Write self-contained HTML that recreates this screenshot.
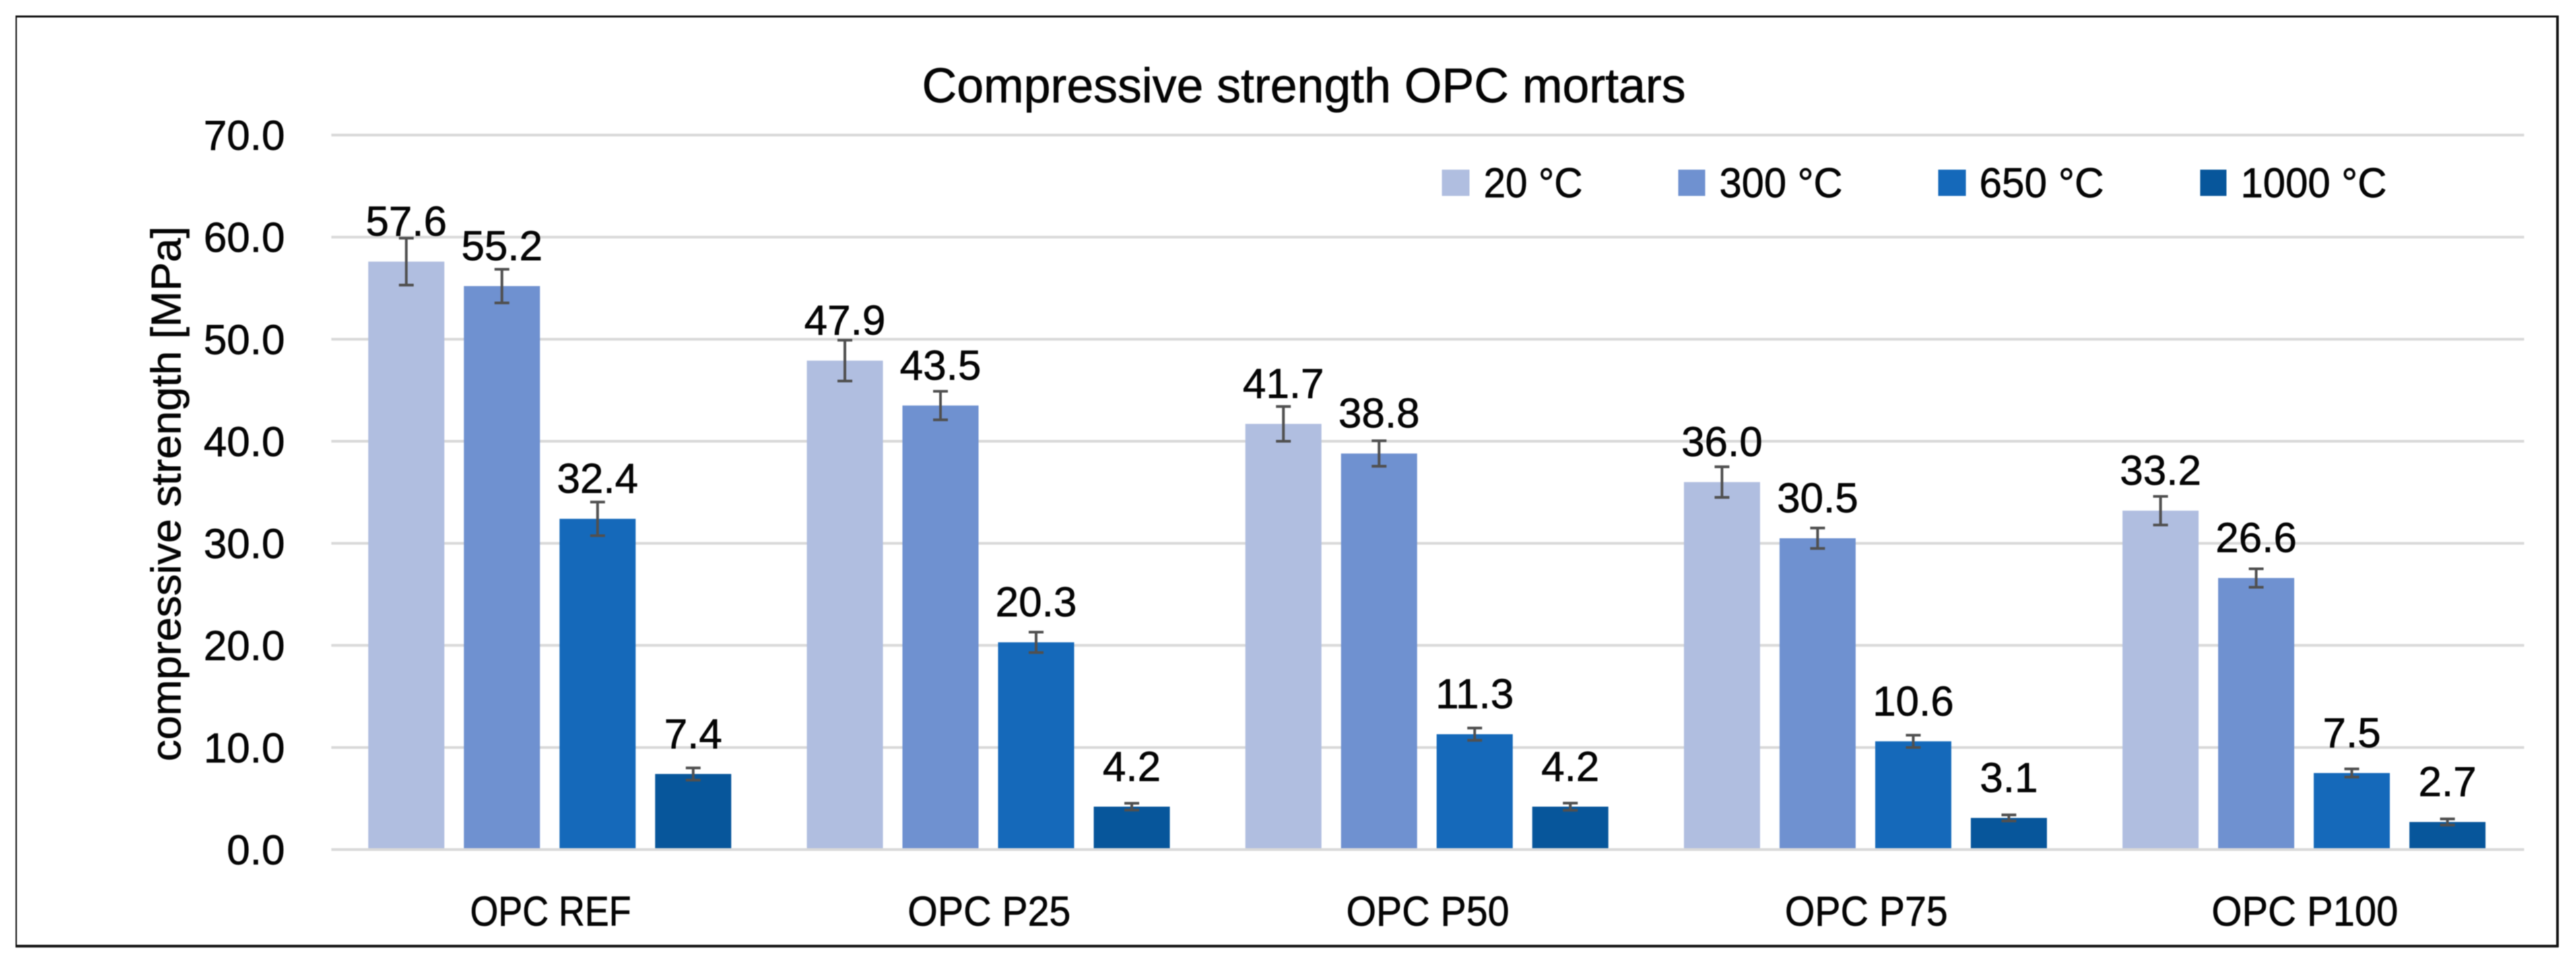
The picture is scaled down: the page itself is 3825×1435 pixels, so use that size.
<!DOCTYPE html>
<html lang="en">
<head>
<meta charset="utf-8">
<title>Compressive strength OPC mortars</title>
<style>
html,body{margin:0;padding:0;background:#fff;width:3825px;height:1435px;overflow:hidden}
svg{display:block}
text{font-family:"Liberation Sans",sans-serif;fill:#050505;stroke:#050505;stroke-width:0.7px}
</style>
</head>
<body>
<svg id="chart" xmlns="http://www.w3.org/2000/svg" width="3825" height="1435" viewBox="0 0 3825 1435" style="filter:blur(0.7px)">
  <rect x="0" y="0" width="3825" height="1435" fill="#fff"/>
  <g stroke="#161616" fill="none">
    <line x1="24" x2="24" y1="23" y2="1407" stroke-width="2"/>
    <line x1="23" x2="3799" y1="24.5" y2="24.5" stroke-width="3"/>
    <line x1="3797.5" x2="3797.5" y1="23" y2="1407" stroke-width="4"/>
    <line x1="23" x2="3799" y1="1405.5" y2="1405.5" stroke-width="4"/>
  </g>
  <text x="1369" y="152" font-size="72" textLength="1134" lengthAdjust="spacingAndGlyphs">Compressive strength OPC mortars</text>
  <text transform="translate(268,1131) rotate(-90)" x="0" y="0" font-size="62" textLength="795" lengthAdjust="spacingAndGlyphs">compressive strength [MPa]</text>
  <g id="grid"></g>
  <g id="yticks"></g>
  <g id="bars"></g>
  <g id="errors"></g>
  <g id="labels"></g>
  <g id="xticks"></g>
  <g id="legend"></g>
</svg>
<script>
const categories = ["OPC REF", "OPC P25", "OPC P50", "OPC P75", "OPC P100"];
const seriesNames = ["20 °C", "300 °C", "650 °C", "1000 °C"];
const tickValues = [0, 10, 20, 30, 40, 50, 60, 70];
const values20 = [57.6, 47.9, 41.7, 36.0, 33.2];
const values300 = [55.2, 43.5, 38.8, 30.5, 26.6];
const values650 = [32.4, 20.3, 11.3, 10.6, 7.5];
const values1000 = [7.4, 4.2, 4.2, 3.1, 2.7];
const errors20 = [2.3, 2.0, 1.7, 1.5, 1.4];
const errors300 = [1.65, 1.4, 1.25, 1.0, 0.9];
const errors650 = [1.65, 1.0, 0.6, 0.6, 0.4];
const errors1000 = [0.6, 0.33, 0.35, 0.3, 0.3];

const seriesValues = [values20, values300, values650, values1000];
const seriesErrors = [errors20, errors300, errors650, errors1000];

const NS = "http://www.w3.org/2000/svg";
const seriesColors = ["#b0bee0", "#6f91d0", "#1569ba", "#07569b"];
const barOffsets = [-213, -71, 71, 213];
const legendLayout = [
  {sx: 2141, sw: 41, tx: 2203, tw: 147},
  {sx: 2492, sw: 40, tx: 2553, tw: 183},
  {sx: 2878, sw: 41, tx: 2939, tw: 185},
  {sx: 3267, sw: 39, tx: 3327, tw: 217}
];
const categoryTextWidth = {"OPC REF": 239, "OPC P25": 242, "OPC P50": 242, "OPC P75": 242, "OPC P100": 277};

const plotLeft = 492, plotRight = 3748, yZero = 1262, yTop = 200.6, axisMax = 70;
const barWidth = 113;

function yScale(v) { return yZero - (v / axisMax) * (yZero - yTop); }
function xCenter(i) { return plotLeft + (plotRight - plotLeft) / categories.length * (i + 0.5) - 1.3; }

function make(tag, attrs, parent, content) {
  const el = document.createElementNS(NS, tag);
  for (const k in attrs) el.setAttribute(k, attrs[k]);
  if (content !== undefined) el.textContent = content;
  parent.appendChild(el);
  return el;
}

const gridG = document.getElementById("grid");
const ytickG = document.getElementById("yticks");
const barG = document.getElementById("bars");
const errG = document.getElementById("errors");
const labelG = document.getElementById("labels");
const xtickG = document.getElementById("xticks");
const legendG = document.getElementById("legend");

tickValues.forEach(function (t) {
  const line = make("line", {x1: plotLeft, x2: plotRight, y1: yScale(t), y2: yScale(t), stroke: "#d9d9d9", "stroke-width": 4}, gridG);
  
  
  const label = make("text", {x: 423, y: yScale(t) + 22, "font-size": 62, "text-anchor": "end"}, ytickG, t.toFixed(1));
  
  
});

seriesValues.forEach(function (vals, s) {
  vals.forEach(function (v, c) {
    const cx = xCenter(c) + barOffsets[s];
    const top = yScale(v);
    const bar = make("rect", {x: cx - barWidth / 2, y: top, width: barWidth, height: yZero - 2 - top, fill: seriesColors[s]}, barG);
    
    

    const e = seriesErrors[s][c];
    const yHi = yScale(v + e), yLo = yScale(v - e);
    const whisker = make("path", {
      d: "M" + (cx - 11) + " " + yHi + "H" + (cx + 11) + "M" + cx + " " + yHi + "V" + yLo + "M" + (cx - 11) + " " + yLo + "H" + (cx + 11),
      fill: "none", stroke: "#505050", "stroke-width": 4
    }, errG);
    
    

    const lab = make("text", {x: cx, y: top - 38.5, "font-size": 62, "text-anchor": "middle"}, labelG, v.toFixed(1));
    
    
  });
});

categories.forEach(function (name, c) {
  const w = categoryTextWidth[name];
  const t = make("text", {x: xCenter(c) + 1.3 - w / 2, y: 1375, "font-size": 62, textLength: w, lengthAdjust: "spacingAndGlyphs"}, xtickG, name);
  
  
});

seriesNames.forEach(function (name, s) {
  const p = legendLayout[s];
  const sw = make("rect", {x: p.sx, y: 252, width: p.sw, height: 39, fill: seriesColors[s]}, legendG);
  
  
  const t = make("text", {x: p.tx, y: 293, "font-size": 62, textLength: p.tw, lengthAdjust: "spacingAndGlyphs"}, legendG, name);
  
  
});
</script>
</body>
</html>
